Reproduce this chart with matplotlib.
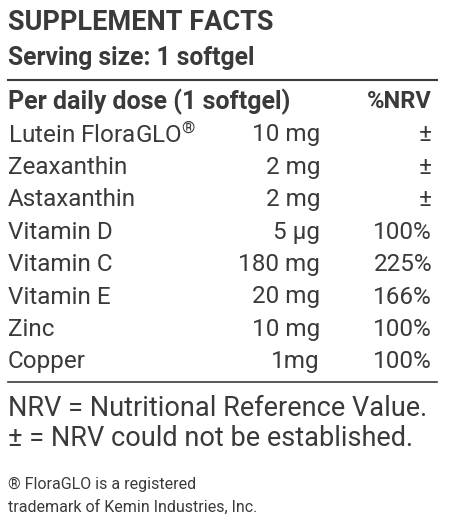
import matplotlib
matplotlib.use('Agg')
import matplotlib.pyplot as plt
from matplotlib.lines import Line2D

W, H = 465, 519
INK = '#3a3a3a'

nutrients = ['Lutein FloraGLO$^{®}$', 'Zeaxanthin', 'Astaxanthin', 'Vitamin D',
             'Vitamin C', 'Vitamin E', 'Zinc', 'Copper']
amounts = ['10 mg', '2 mg', '2 mg', '5 µg', '180 mg', '20 mg', '10 mg', '1mg']
nrv = ['±', '±', '±', '100%', '225%', '166%', '100%', '100%']

plt.rcParams['font.family'] = ['Roboto', 'DejaVu Sans']
plt.rcParams['mathtext.fontset'] = 'custom'
plt.rcParams['mathtext.rm'] = 'Roboto'
plt.rcParams['mathtext.default'] = 'regular'

fig = plt.figure(figsize=(W / 100, H / 100), dpi=100)
fig.patch.set_facecolor('white')


def txt(x, y, s, size, weight='normal', ha='left'):
    fig.text(x / W, 1 - y / H, s, fontsize=size, fontweight=weight,
             ha=ha, va='center', color=INK)


def hline(y, lw=1.5):
    fig.add_artist(Line2D([8 / W, 437 / W], [1 - y / H, 1 - y / H],
                          color=INK, lw=lw, transform=fig.transFigure))


txt(8, 23, 'SUPPLEMENT FACTS', 19.5, 'bold')
txt(8, 58, 'Serving size: 1 softgel', 17.7, 'bold')
hline(80)
txt(8, 102, 'Per daily dose (1 softgel)', 18, 'bold')
txt(432, 102, '%NRV', 17, 'bold', ha='right')

for i, (n, a, r) in enumerate(zip(nutrients, amounts, nrv)):
    y = 135 + i * 32.4
    txt(8, y, n, 17.5)
    txt(320, y, a, 17.5, ha='right')
    txt(432, y, r, 17.5, ha='right')

hline(382, 1.2)
txt(8, 409, 'NRV = Nutritional Reference Value.', 19.5)
txt(8, 439, '± = NRV could not be established.', 19.5)
txt(8, 484, '® FloraGLO is a registered', 11.5)
txt(8, 507, 'trademark of Kemin Industries, Inc.', 11.5)

fig.savefig('out.png', dpi=100, facecolor='white')
